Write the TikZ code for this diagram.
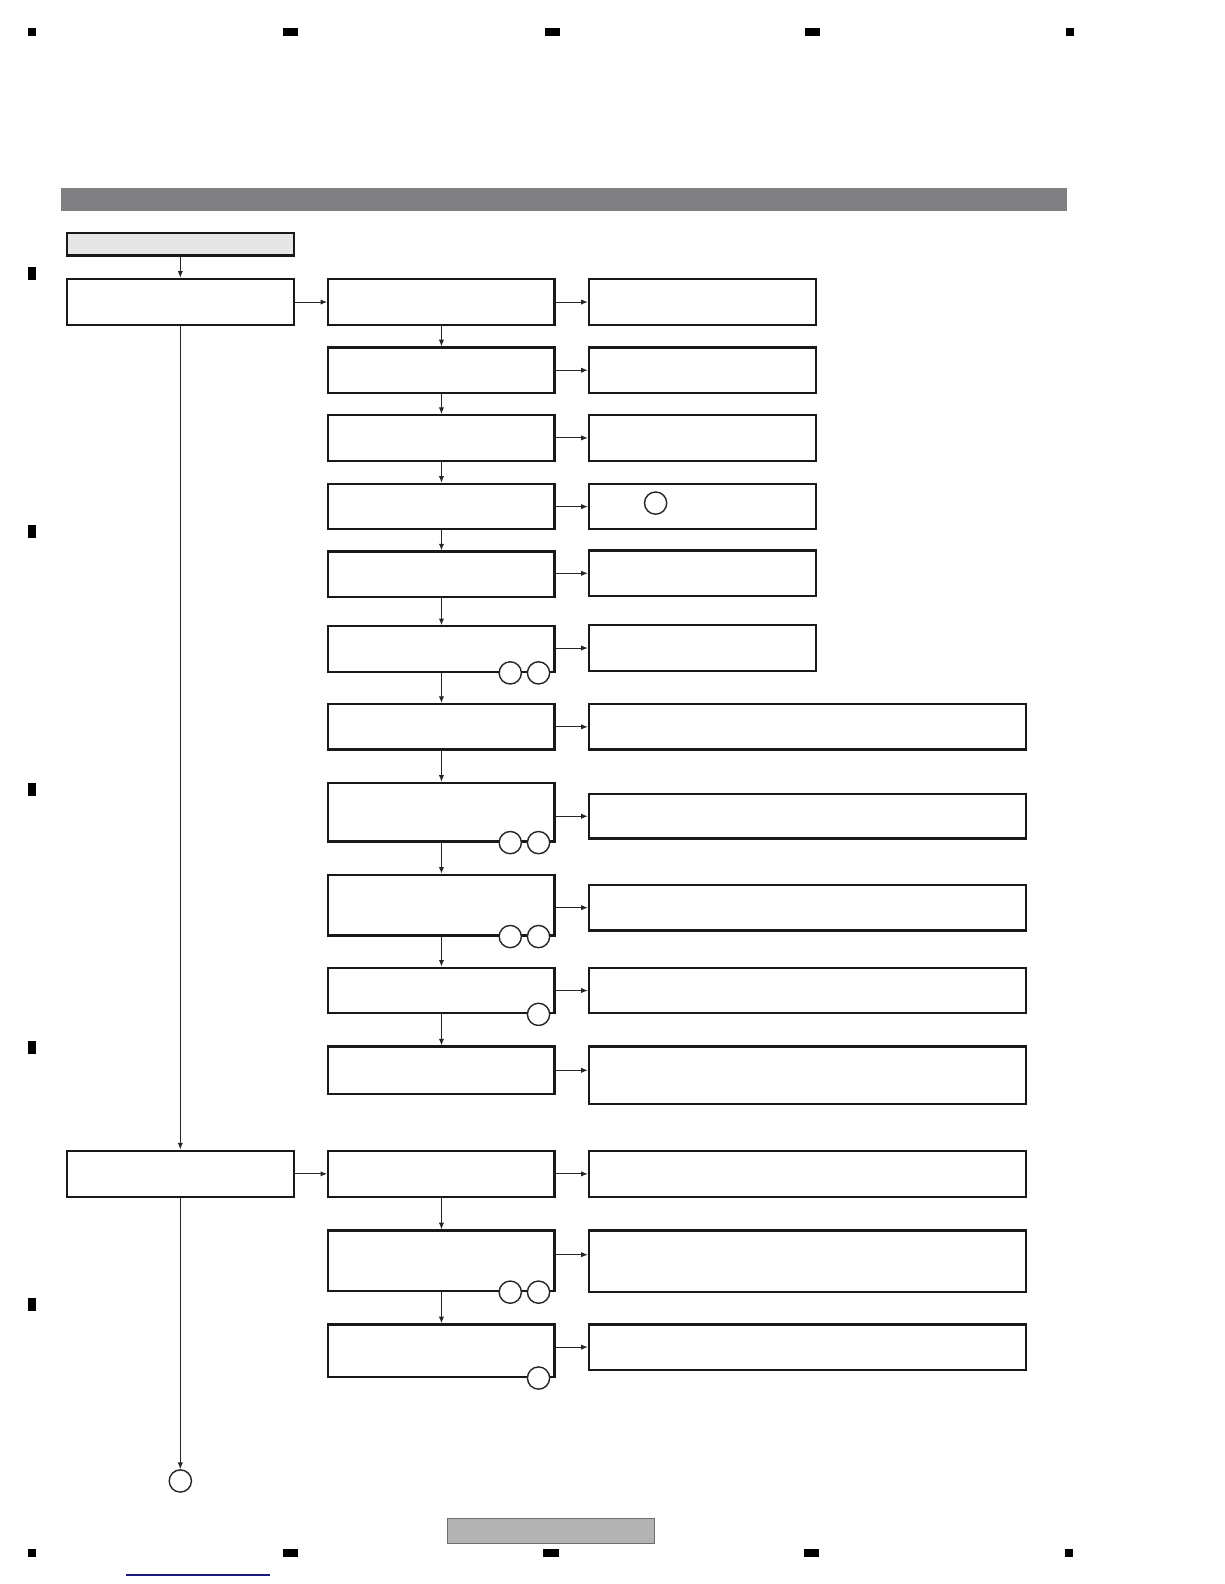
\documentclass[tikz,border=0pt]{standalone}
\usetikzlibrary{arrows.meta}
\definecolor{bargray}{HTML}{808083}
\definecolor{lightbox}{HTML}{E6E6E6}
\definecolor{footgray}{HTML}{B3B3B3}
\definecolor{footedge}{HTML}{6D6D6D}
\definecolor{linkblue}{HTML}{1A1A80}
\tikzset{
  box/.style={draw=black!90, line width=1.1pt, inner sep=0pt, fill=white},
  c2/.style={box, minimum width=112pt},
  c1/.style={box, minimum width=112.5pt},
  c3s/.style={box, minimum width=112.5pt},
  c3l/.style={box, minimum width=216.5pt},
  arr/.style={line width=0.5pt, draw=black!85, -{Latex[length=3.3pt,width=2.6pt]}},
  pin/.style={circle, draw=black!85, line width=0.7pt, fill=white, minimum size=11pt, inner sep=0pt},
  regmark/.style={fill=black, draw=none}
}
\begin{document}
\begin{tikzpicture}[x=0.5pt, y=-0.5pt]
\useasboundingbox (0,0) rectangle (1212,1568);
% registration marks
\fill[regmark] (28,28) rectangle (36,36);
\fill[regmark] (280,28) rectangle (295,36);
\fill[regmark] (539,28) rectangle (554,36);
\fill[regmark] (797,28) rectangle (812,36);
\fill[regmark] (1055,28) rectangle (1063,36);
\fill[regmark] (28,1533) rectangle (36,1541);
\fill[regmark] (280,1533) rectangle (295,1541);
\fill[regmark] (538,1533) rectangle (553,1541);
\fill[regmark] (796,1533) rectangle (811,1541);
\fill[regmark] (1054,1533) rectangle (1062,1541);
\foreach \yy in {264,520,775,1030,1285} \fill[regmark] (28,\yy) rectangle (36,\yy+13);
% header bar
\fill[bargray] (60,186) rectangle (1056,209);
% footer
\filldraw[fill=footgray, draw=footedge, line width=0.6pt] (443,1503) rectangle (648,1528);
\draw[linkblue, line width=0.6pt] (125,1559) -- (267,1559);

% column 1
\node[c1, fill=lightbox, minimum height=11pt] (L) at (178.5,242) {};
\node[c1, minimum height=23pt] (A1) at (178.5,299) {};
\node[c1, minimum height=23pt] (A2) at (178.5,1162) {};
\node[pin] (E) at (178.5,1466) {};

% column 2
\node[c2, minimum height=23pt]   (c1)  at (437,299) {};
\node[c2, minimum height=22.5pt] (c2)  at (437,366.5) {};
\node[c2, minimum height=22.5pt] (c3)  at (437,433.5) {};
\node[c2, minimum height=22.5pt] (c4)  at (437,501.5) {};
\node[c2, minimum height=22.5pt] (c5)  at (437,568.5) {};
\node[c2, minimum height=22.5pt] (c6)  at (437,642.5) {};
\node[c2, minimum height=22.5pt] (c7)  at (437,719.5) {};
\node[c2, minimum height=29pt]   (c8)  at (437,804) {};
\node[c2, minimum height=30pt]   (c9)  at (437,896) {};
\node[c2, minimum height=22.5pt] (c10) at (437,980.5) {};
\node[c2, minimum height=23.5pt] (c11) at (437,1059.5) {};
\node[c2, minimum height=23pt]   (c12) at (437,1162) {};
\node[c2, minimum height=30pt]   (c13) at (437,1248) {};
\node[c2, minimum height=26pt]   (c14) at (437,1337) {};

% column 3
\node[c3s, minimum height=23pt]   (d1)  at (695.5,299) {};
\node[c3s, minimum height=22.5pt] (d2)  at (695.5,366.5) {};
\node[c3s, minimum height=22.5pt] (d3)  at (695.5,433.5) {};
\node[c3s, minimum height=22.5pt] (d4)  at (695.5,501.5) {};
\node[c3s, minimum height=22.5pt] (d5)  at (695.5,567.5) {};
\node[c3s, minimum height=22.5pt] (d6)  at (695.5,641.5) {};
\node[c3l, minimum height=22.5pt] (d7)  at (799.5,719.5) {};
\node[c3l, minimum height=22pt]   (d8)  at (799.5,808) {};
\node[c3l, minimum height=22.5pt] (d9)  at (799.5,898.5) {};
\node[c3l, minimum height=22.5pt] (d10) at (799.5,980.5) {};
\node[c3l, minimum height=28.5pt] (d11) at (799.5,1064.5) {};
\node[c3l, minimum height=23pt]   (d12) at (799.5,1162) {};
\node[c3l, minimum height=30.5pt] (d13) at (799.5,1248.5) {};
\node[c3l, minimum height=22.5pt] (d14) at (799.5,1333.5) {};

% circles on boxes
\node[pin] (q4)  at (649,498) {};
\node[pin] (p6a) at ([xshift=-22.5pt]c6.south east) {};
\node[pin] (p6b) at ([xshift=-8.5pt]c6.south east) {};
\node[pin] (p8a) at ([xshift=-22.5pt]c8.south east) {};
\node[pin] (p8b) at ([xshift=-8.5pt]c8.south east) {};
\node[pin] (p9a) at ([xshift=-22.5pt]c9.south east) {};
\node[pin] (p9b) at ([xshift=-8.5pt]c9.south east) {};
\node[pin] (p10) at ([xshift=-8.5pt]c10.south east) {};
\node[pin] (p13a) at ([xshift=-22.5pt]c13.south east) {};
\node[pin] (p13b) at ([xshift=-8.5pt]c13.south east) {};
\node[pin] (p14) at ([xshift=-8.5pt]c14.south east) {};

% connectors column 1
\draw[arr] (L) -- (A1);
\draw[arr] (A1) -- (A2);
\draw[arr] (A2) -- (E);
\draw[arr] (A1) -- (c1);
\draw[arr] (A2) -- (c12);

% vertical connectors column 2
\foreach \a/\b in {c1/c2,c2/c3,c3/c4,c4/c5,c5/c6,c6/c7,c7/c8,c8/c9,c9/c10,c10/c11,c12/c13,c13/c14}
  \draw[arr] (\a) -- (\b);

% horizontal connectors
\foreach \a/\b in {c1/d1,c2/d2,c3/d3,c4/d4,c5/d5,c6/d6,c7/d7,c8/d8,c9/d9,c10/d10,c12/d12,c14/d14}
  \draw[arr] (\a.east |- \b.west) -- (\b.west);
\draw[arr] (c11.east) -- (c11.east -| d11.west);
\draw[arr] ([yshift=3pt]c13.east) -- ([yshift=3pt]c13.east -| d13.west);
\end{tikzpicture}
\end{document}
